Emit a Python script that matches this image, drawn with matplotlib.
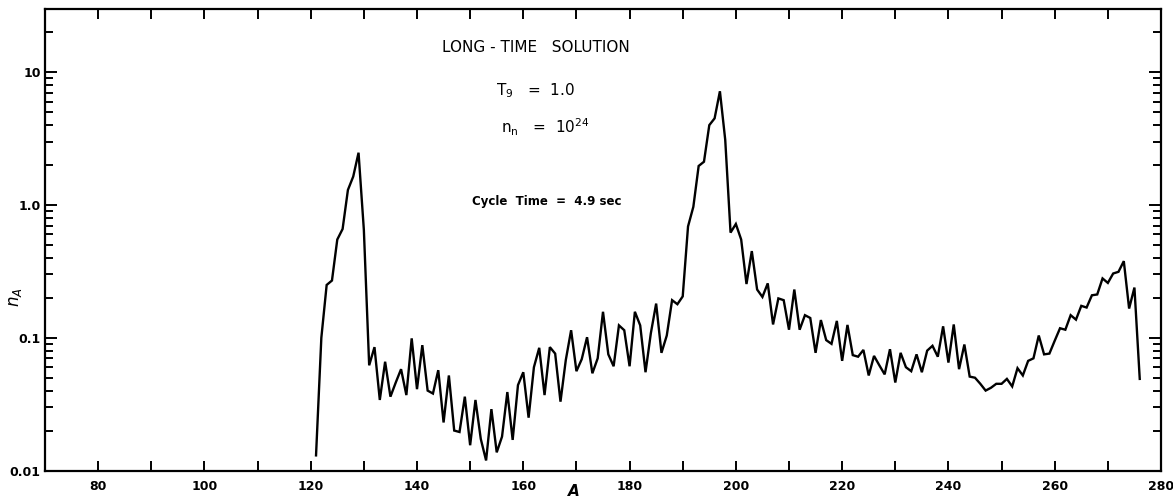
import matplotlib
matplotlib.use("Agg")
import matplotlib.pyplot as plt
from matplotlib.ticker import FixedLocator, NullFormatter, FixedFormatter
from matplotlib.font_manager import FontProperties
import numpy as np

# Mass number range and abundances n_A of the long-time solution
mass_start = 121
abundance = [
    0.013, 0.10, 0.25, 0.27, 0.55, 0.66, 1.30, 1.64, 2.48, 0.65,          # 121-130
    0.062, 0.085, 0.034, 0.066, 0.036, 0.046, 0.058, 0.037, 0.099, 0.041,  # 131-140
    0.088, 0.040, 0.038, 0.057, 0.023, 0.052, 0.020, 0.0195, 0.036, 0.0155,  # 141-150
    0.034, 0.0173, 0.0119, 0.029, 0.0137, 0.018, 0.039, 0.017, 0.044, 0.055,  # 151-160
    0.025, 0.060, 0.084, 0.037, 0.085, 0.076, 0.033, 0.068, 0.114, 0.056,  # 161-170
    0.069, 0.101, 0.054, 0.070, 0.157, 0.075, 0.061, 0.124, 0.114, 0.061,  # 171-180
    0.157, 0.124, 0.055, 0.108, 0.181, 0.077, 0.104, 0.192, 0.179, 0.205,  # 181-190
    0.69, 0.97, 1.97, 2.12, 4.0, 4.5, 7.2, 3.1, 0.62, 0.72,                # 191-200
    0.55, 0.254, 0.45, 0.231, 0.203, 0.257, 0.126, 0.198, 0.192, 0.115,    # 201-210
    0.231, 0.115, 0.148, 0.141, 0.077, 0.136, 0.096, 0.090, 0.134, 0.067,  # 211-220
    0.125, 0.074, 0.072, 0.081, 0.052, 0.073, 0.062, 0.053, 0.082, 0.046,  # 221-230
    0.077, 0.060, 0.056, 0.075, 0.055, 0.080, 0.087, 0.072, 0.122, 0.065,  # 231-240
    0.126, 0.058, 0.089, 0.051, 0.050, 0.045, 0.040, 0.042, 0.045, 0.045,  # 241-250
    0.049, 0.043, 0.059, 0.052, 0.067, 0.070, 0.104, 0.075, 0.076, 0.095,  # 251-260
    0.118, 0.115, 0.148, 0.137, 0.174, 0.169, 0.209, 0.212, 0.280, 0.259,  # 261-270
    0.305, 0.314, 0.378, 0.166, 0.239, 0.049,                              # 271-276
]
mass_number = np.arange(mass_start, mass_start + len(abundance))

x_major = [80, 100, 120, 140, 160, 180, 200, 220, 240, 260, 280]
x_minor = [90, 110, 130, 150, 170, 190, 210, 230, 250, 270]
y_major = [0.01, 0.1, 1.0, 10.0]
y_labels = ["0.01", "0.1", "1.0", "10"]

W, H = 1173, 499
fig = plt.figure(figsize=(W / 100, H / 100), dpi=100)
ax = fig.add_axes([45 / W, (H - 470.5) / H, (1161 - 45) / W, (470.5 - 9) / H])

ax.plot(mass_number, abundance, color="black", lw=1.7, solid_joinstyle="miter")

ax.set_yscale("log")
ax.set_xlim(70, 280)
ax.set_ylim(0.01, 30)

ax.xaxis.set_major_locator(FixedLocator(x_major))
ax.xaxis.set_minor_locator(FixedLocator(x_minor))
ax.yaxis.set_major_locator(FixedLocator(y_major))
ax.yaxis.set_major_formatter(FixedFormatter(y_labels))
ax.yaxis.set_minor_locator(FixedLocator(
    [m * d for d in (0.01, 0.1, 1.0, 10.0) for m in range(2, 10) if m * d < 30]))
ax.yaxis.set_minor_formatter(NullFormatter())

tick_font = FontProperties(family="DejaVu Sans", weight="bold", size=9)
ax.tick_params(axis="both", which="both", direction="in", top=True, right=True,
               colors="black", width=1.4)
ax.tick_params(axis="x", which="both", length=7, pad=7)
ax.tick_params(axis="y", which="major", length=8.5, pad=3)
ax.tick_params(axis="y", which="minor", length=5.5)
for lab in ax.get_xticklabels() + ax.get_yticklabels():
    lab.set_fontproperties(tick_font)

for sp in ax.spines.values():
    sp.set_linewidth(1.6)
    sp.set_color("black")

# Axis titles
fig.text(574 / W, 1 - 491 / H, "$\\boldsymbol{A}$", ha="center", va="center",
         fontsize=11)
fig.text(15 / W, 1 - 297 / H, "$\\boldsymbol{n_A}$", ha="center", va="center",
         fontsize=12, rotation=90)

# Annotations
fig.text(536 / W, 1 - 48 / H, "LONG - TIME   SOLUTION", ha="center", va="center",
         fontsize=11, family="DejaVu Sans")
fig.text(535 / W, 1 - 91 / H, "T$_9$   =  1.0", ha="center", va="center",
         fontsize=11, family="DejaVu Sans")
fig.text(545 / W, 1 - 127 / H, "n$_\\mathrm{n}$   =  10$^{24}$", ha="center",
         va="center", fontsize=11, family="DejaVu Sans")
fig.text(547 / W, 1 - 201 / H, "Cycle  Time  =  4.9 sec", ha="center", va="center",
         fontsize=8.5, weight="bold", family="DejaVu Sans")

fig.savefig("out.png", dpi=100, facecolor="white")
